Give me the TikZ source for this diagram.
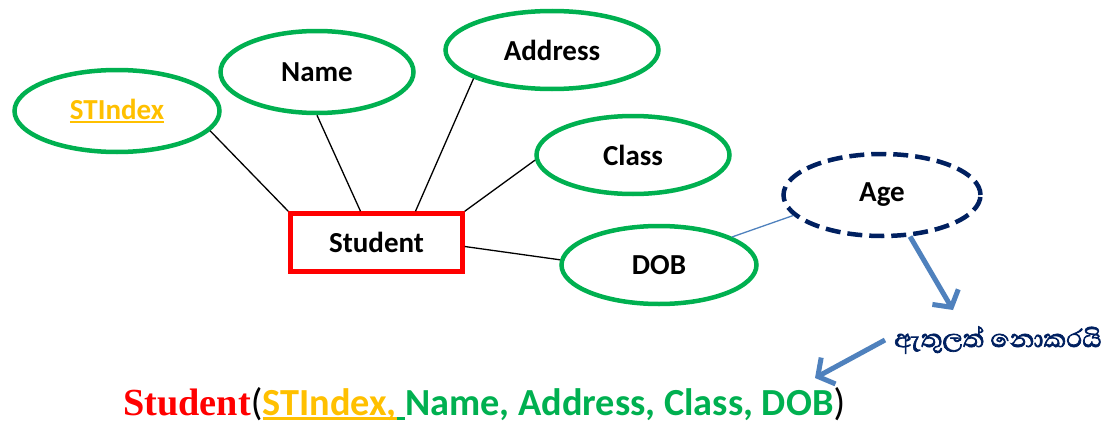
\documentclass[tikz,border=0pt]{standalone}
\usepackage{fontspec}
\setmainfont{Carlito}
\newfontfamily\serifb{Liberation Serif}
\newfontfamily\sinfont[Script=Sinhala,FakeBold=2.2]{Abhaya Libre}
\usetikzlibrary{arrows.meta,calc,shapes.geometric}
\definecolor{eg}{HTML}{00B050}
\definecolor{kred}{HTML}{FF0000}
\definecolor{korange}{HTML}{FFC000}
\definecolor{navy}{HTML}{002060}
\definecolor{ablue}{HTML}{4F81BD}
\newcommand{\thickul}[2]{\setbox0\hbox{#2}\rlap{\rule[-#1]{\wd0}{0.08em}}\box0}
\begin{document}
\begin{tikzpicture}[x=1pt,y=-1pt,
  attr/.style={ellipse, draw=eg, line width=4.5pt, inner sep=0pt,
    font=\fontsize{29}{32}\selectfont\bfseries},
  derived/.style={ellipse, draw=navy, line width=4.5pt, inner sep=0pt,
    dash pattern=on 15pt off 7pt, font=\fontsize{29}{32}\selectfont\bfseries},
  entity/.style={rectangle, draw=kred, line width=4.5pt, inner sep=0pt,
    minimum width=172pt, minimum height=58pt, font=\fontsize{29}{32}\selectfont\bfseries},
  link/.style={draw=black, line width=1.3pt},
  thinlink/.style={draw=ablue, line width=1.3pt},
  bigarrow/.style={draw=ablue, line width=5pt, -{Straight Barb[length=12pt,width=30pt]}},
]
\path[use as bounding box] (0,0) rectangle (1117,431);

\node[attr, minimum width=205pt, minimum height=82pt] (stindex) at (117,111)
  {\textcolor{korange}{\thickul{4pt}{STIndex}}};
\node[attr, minimum width=193pt, minimum height=82pt] (name) at (317,72) {Name};
\node[attr, minimum width=213pt, minimum height=78pt] (address) at (552,50) {Address};
\node[attr, minimum width=193pt, minimum height=78pt] (class) at (633,155) {Class};
\node[attr, minimum width=195pt, minimum height=78pt] (dob) at (659,265) {DOB};
\node[derived, minimum width=197pt, minimum height=82pt] (age) at (882,195) {\raisebox{-3pt}{Age}};
\node[entity] (student) at (376.5,242.5) {Student};

\node[font=\fontsize{32}{35}\selectfont\sinfont, text=navy, anchor=west, inner sep=0pt]
  (sin) at (894,340) {ඇතුලත් නොකරයි};

\coordinate (a1end) at (953,310);
\coordinate (a2end) at (815,378);

\draw[link] (stindex.-12) -- (student.north west);
\draw[link] (name.south) -- ([xshift=-16pt]student.north);
\draw[link] (address.200) -- ([xshift=39pt]student.north);
\draw[link] (class.183) -- (student.north east);
\draw[link] ([yshift=-4pt]student.east) -- (dob.177);
\draw[thinlink] (dob.21) -- (age.193);

\draw[bigarrow] (age.-56) -- (a1end);
\draw[bigarrow] ([xshift=-9pt]sin.west) -- (a2end);

\node[anchor=base west, inner sep=0pt] (rel) at (123,415)
  {\fontsize{38.3}{42}\selectfont
   \textcolor{kred}{\serifb\bfseries Student}(\bfseries\textcolor{korange}{\thickul{5pt}{STIndex,}}\textcolor{eg}{\thickul{5pt}{\ }Name, Address, Class, DOB}\mdseries)};
\end{tikzpicture}
\end{document}
